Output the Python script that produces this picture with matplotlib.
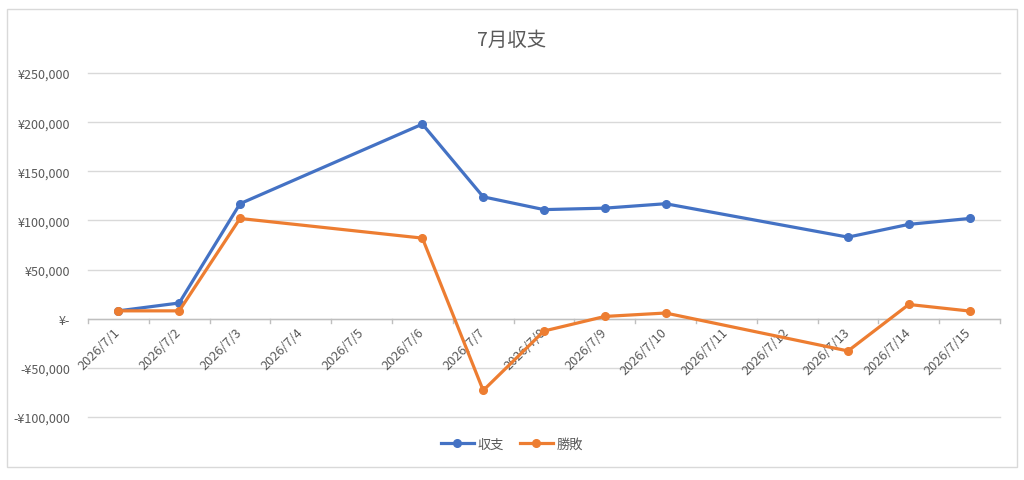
import matplotlib
matplotlib.use("Agg")
import matplotlib.pyplot as plt
from matplotlib.patches import Rectangle
from matplotlib.ticker import FuncFormatter, FixedLocator
import pandas as pd

plt.rcParams['font.family'] = ['Noto Sans CJK JP', 'DejaVu Sans']

title = "7月収支"
all_days = ["2026/7/1", "2026/7/2", "2026/7/3", "2026/7/4", "2026/7/5", "2026/7/6", "2026/7/7",
            "2026/7/8", "2026/7/9", "2026/7/10", "2026/7/11", "2026/7/12", "2026/7/13",
            "2026/7/14", "2026/7/15"]
data_days = ["2026/7/1", "2026/7/2", "2026/7/3", "2026/7/6", "2026/7/7", "2026/7/8",
             "2026/7/9", "2026/7/10", "2026/7/13", "2026/7/14", "2026/7/15"]
balance = [8000, 16000, 117000, 198000, 124000, 111000, 112500, 117000, 83000, 96000, 102000]
winloss = [8000, 8000, 102000, 82000, -73000, -12500, 2300, 5800, -32800, 14500, 7800]
series_names = ["収支", "勝敗"]
colors = ["#4472C4", "#ED7D31"]

all_dt = pd.to_datetime(all_days, format="%Y/%m/%d")
data_dt = pd.to_datetime(data_days, format="%Y/%m/%d")
start = all_dt[0]
x_all = [(d - start).days for d in all_dt]
x_data = [(d - start).days for d in data_dt]

fig = plt.figure(figsize=(10.24, 4.81), dpi=100)
fig.patches.append(Rectangle((7/1024, 1-468/481), 1010/1024, 458/481, transform=fig.transFigure,
                             fill=False, edgecolor="#D9D9D9", linewidth=1))
ax = fig.add_axes([88/1024, 1-418/481, 912/1024, 344/481])

for vals, name, c in zip([balance, winloss], series_names, colors):
    ax.plot(x_data, vals, color=c, lw=2.3, marker="o", markersize=5.5, label=name,
            solid_joinstyle="round", zorder=3)

ax.set_xlim(-0.5, len(all_days) - 0.5)
ax.set_ylim(-100000, 250000)
ax.yaxis.set_major_locator(FixedLocator(range(-100000, 250001, 50000)))

def yen(v, pos):
    v = int(round(v))
    if v == 0:
        return "¥-"
    s = f"¥{abs(v):,}"
    return "-" + s if v < 0 else s
ax.yaxis.set_major_formatter(FuncFormatter(yen))
ax.grid(axis="y", color="#D9D9D9", lw=1)
for gl in ax.yaxis.get_gridlines():
    gl.set_clip_on(False)
ax.set_axisbelow(True)
for s in ax.spines.values():
    s.set_visible(False)
ax.tick_params(axis="y", length=0, labelsize=9, labelcolor="#595959", pad=13)

# x axis at y=0
ax.axhline(0, color="#BFBFBF", lw=1, zorder=2)
ax.set_xticks([])
for xb in [i + 0.5 for i in x_all[:-1]] + [-0.5, len(all_days) - 0.5]:
    ax.plot([xb, xb], [0, -4500], color="#BFBFBF", lw=1, zorder=2, clip_on=False)
for xi, lab in zip(x_all, all_days):
    ax.text(xi - 0.08, -7000, lab, rotation=45, rotation_mode="anchor", ha="right", va="top",
            fontsize=9.2, color="#595959", zorder=1)

fig.text(0.5, 1-40/481, title, ha="center", va="center", fontsize=14, color="#595959")
leg = fig.legend(loc="center", bbox_to_anchor=(0.5, 1-445/481), ncol=2, frameon=False,
                 fontsize=9.5, labelcolor="#595959", handlelength=2.5, columnspacing=1.2,
                 handletextpad=0.3)

fig.savefig("out.png", dpi=100)
